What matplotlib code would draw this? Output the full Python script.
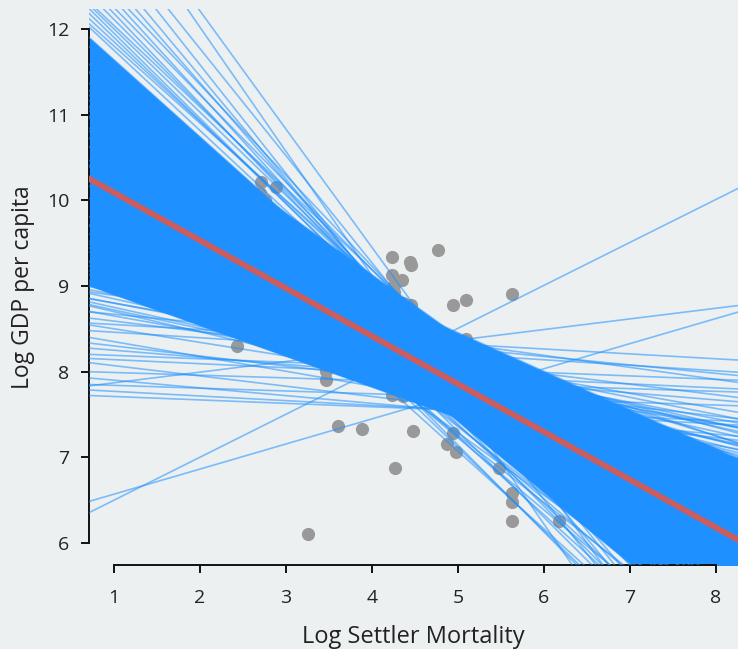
import numpy as np
import matplotlib.pyplot as plt

plt.rcParams['font.family'] = ['Open Sans', 'DejaVu Sans']

# visible countries: log settler mortality vs log GDP per capita
mort_x = [2.71, 2.88, 2.76, 2.70, 2.43, 3.47, 3.47, 3.61, 3.88, 3.25,
          4.27, 4.48, 4.23, 4.44, 4.45, 4.77, 4.23, 4.35, 4.26, 4.26,
          4.36, 4.45, 4.94, 5.09, 5.63, 5.09, 4.94, 4.87, 4.98, 5.48,
          5.63, 5.63, 5.63, 6.17, 7.29, 4.23, 4.36, 4.40]
gdp_y = [10.21, 10.15, 10.00, 10.08, 8.30, 8.01, 7.90, 7.36, 7.33, 6.11,
         6.88, 7.31, 9.34, 9.28, 9.25, 9.42, 9.13, 9.07, 9.01, 8.93,
         8.80, 8.78, 8.78, 8.84, 8.91, 8.38, 7.28, 7.15, 7.06, 6.87,
         6.58, 6.48, 6.26, 6.26, 7.26, 7.73, 7.71, 8.78]

# bootstrap lines, each one read as its value at x=1 and at x=8
# dense core of the bundle
core_at1 = [11.64, 11.29, 10.26, 8.90, 10.74, 10.90, 10.30, 10.60, 9.60, 9.40, 11.00, 10.00, 10.90]
core_at8 = [5.34, 6.25, 7.10, 6.38, 4.93, 6.10, 6.30, 5.60, 6.90, 6.50, 5.50, 6.00, 6.50]

# the sparser lines around it
boot_at1 = [12.04, 12.11, 12.18, 12.25, 12.34, 12.41, 12.52, 12.65, 12.85, 13.02,
            13.47, 13.59, 11.85, 11.80, 11.90, 11.95, 12.00, 11.75,
            11.30, 11.10, 10.90, 11.50, 10.60, 10.40, 10.20, 10.80, 11.00, 10.50,
            11.20, 10.70,
            9.30, 9.50, 9.10, 9.70, 9.60, 9.20, 9.90,
            9.05, 8.95, 8.85, 8.75, 8.65, 9.20, 8.70, 9.00, 8.90, 9.40,
            9.15, 8.80, 9.35,
            8.55, 8.46, 8.67, 8.19, 8.89, 7.99, 8.59, 7.84, 8.80, 8.30,
            7.77, 8.93, 8.07, 8.35, 7.90, 8.72, 7.71, 8.25, 8.50, 8.97, 8.14,
            6.50, 6.57, 7.87]
boot_at8 = [5.39, 5.11, 4.83, 5.11, 4.64, 4.99, 4.47, 4.25, 3.97, 4.27,
            3.32, 3.93, 5.34, 5.50, 5.11, 5.00, 5.20, 5.20,
            4.30, 4.60, 4.50, 4.40, 4.70, 4.90, 5.10, 4.80, 4.20, 5.00,
            4.10, 4.35,
            7.00, 6.90, 7.20, 7.10, 7.25, 7.35, 6.95,
            7.05, 7.15, 7.30, 7.20, 7.40, 6.95, 7.05, 7.40, 7.50, 7.25,
            7.10, 7.45, 7.05,
            8.15, 8.01, 7.98, 7.91, 7.91, 7.77, 7.73, 7.61, 7.57, 7.48,
            7.39, 7.36, 7.23, 7.14, 7.27, 7.21, 7.43, 7.67, 7.39, 7.12, 7.81,
            10.01, 8.62, 8.74]

# OLS fit on the full sample
fit_at1 = 10.09
fit_at8 = 6.18

BG = "#ECF0F1"
BLUE = "#1E90FF"
RED = "#CD5C5C"

fig = plt.figure(figsize=(7.38, 6.49), dpi=100, facecolor=BG)
ax = fig.add_axes([89 / 738, 84 / 649, 649 / 738, 556 / 649])
ax.set_facecolor(BG)
ax.set_xlim(0.709, 8.256)
ax.set_ylim(5.743, 12.233)

ax.scatter(mort_x, gdp_y, s=90, color="#999999", linewidths=0, zorder=1)

# solid part where the bootstrap lines pile up
xs = np.linspace(0.709, 8.256, 400)
core = np.array([a + (b - a) * (xs - 1) / 7 for a, b in zip(core_at1, core_at8)])
ax.fill_between(xs, core.min(axis=0), core.max(axis=0), color=BLUE, lw=0, zorder=2)

for a, b in zip(core_at1 + boot_at1, core_at8 + boot_at8):
    ax.axline((1, a), (8, b), color=BLUE, lw=1.2, alpha=0.55, zorder=3)

ax.axline((1, fit_at1), (8, fit_at8), color=RED, lw=4.2, zorder=4)

for side in ["top", "right"]:
    ax.spines[side].set_visible(False)
ax.spines["left"].set_bounds(6, 12)
ax.spines["bottom"].set_bounds(1, 8)
for side in ["left", "bottom"]:
    ax.spines[side].set_linewidth(1.4)
    ax.spines[side].set_color("#111111")

ax.set_xticks(range(1, 9))
ax.set_yticks(range(6, 13))
ax.tick_params(axis="both", length=6, width=1.4, color="#111111",
               labelsize=14, labelcolor="#222222")
ax.tick_params(axis="x", pad=11)
ax.tick_params(axis="y", pad=8)

ax.set_xlabel("Log Settler Mortality", fontsize=17, color="#222222", labelpad=13)
ax.set_ylabel("Log GDP per capita", fontsize=16.5, color="#222222", labelpad=9)

fig.savefig("out.png", dpi=100, facecolor=BG)
